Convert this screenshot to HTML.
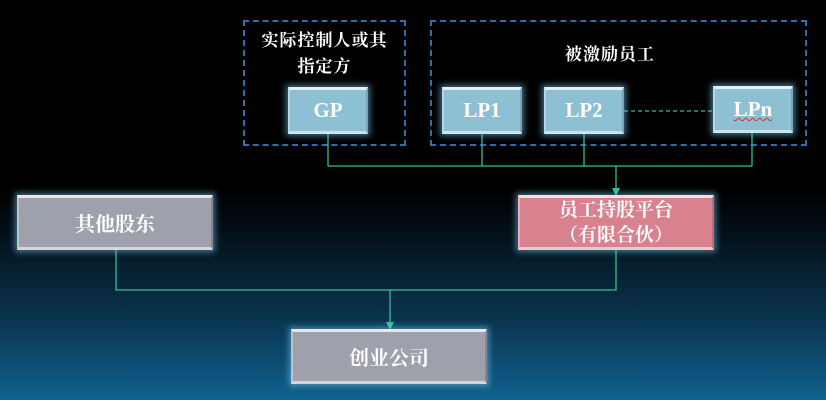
<!DOCTYPE html>
<html><head><meta charset="utf-8"><style>
*{margin:0;padding:0;box-sizing:border-box}
body{width:826px;height:400px;overflow:hidden;position:relative;
background:linear-gradient(to bottom,#000 0px,#000 190px,#04131d 240px,#0a3550 320px,#0f6290 400px);
font-family:"Liberation Serif","Noto Serif CJK SC",serif;color:#fff}
.b{position:absolute;display:flex;align-items:center;justify-content:center;text-align:center;font-weight:bold;
box-shadow:0 0 6px 2px rgba(120,200,240,.55);border-top:3px solid rgba(255,255,255,.75);border-bottom:3px solid rgba(255,255,255,.55);border-left:2px solid rgba(255,255,255,.35);border-right:2px solid rgba(0,0,0,.15)}
.lp{background:#8ec0d4;font-size:21px;width:80px;height:47px;top:87px}
.g{background:#9ea1ab;font-size:20px;width:196px;height:55px}
.d{position:absolute;border:2px dashed #2f6ea8}
.t{position:absolute;font-weight:bold;font-size:17px;text-align:center;letter-spacing:1px}
</style></head><body>
<div class="d" style="left:243px;top:20px;width:163px;height:126px"></div>
<div class="d" style="left:430px;top:20px;width:377px;height:126px"></div>
<div class="t" style="left:243px;top:28px;width:163px;line-height:26px">实际控制人或其<br>指定方</div>
<div class="t" style="left:430px;top:40px;width:360px">被激励员工</div>
<svg style="position:absolute;left:0;top:0" width="826" height="400">
<g stroke="#2fbf95" stroke-width="1.3" fill="none">
<path d="M328 134V166M482 134V166M584 134V166M752 133V166M328 166H752M616 166V190"/>
<path d="M116 250V290H616V250M390 290V324"/>
<path d="M624 111H713" stroke-dasharray="4 3"/>
</g>
<g fill="#2fbf95"><path d="M612 188L620 188L616 196Z"/><path d="M386 322L394 322L390 330Z"/></g>
</svg>
<div class="b lp" style="left:288px">GP</div>
<div class="b lp" style="left:442px">LP1</div>
<div class="b lp" style="left:544px">LP2</div>
<div class="b lp" style="left:713px;top:86px"><span style="text-decoration:underline wavy #c33;text-decoration-thickness:1px">LPn</span></div>
<div class="b g" style="left:17px;top:195px">其他股东</div>
<div class="b g" style="left:518px;top:195px;background:#d8828f;font-size:19px;line-height:25px">员工持股平台<br>（有限合伙）</div>
<div class="b g" style="left:291px;top:329px">创业公司</div>
</body></html>
